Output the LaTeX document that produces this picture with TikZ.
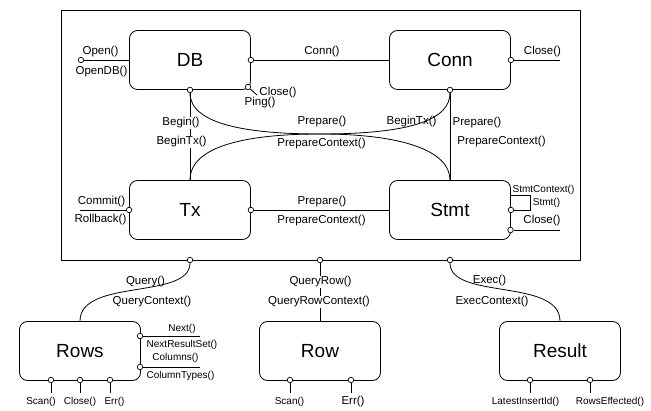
\documentclass[tikz,border=0pt]{standalone}
\usepackage{fontspec}
\setmainfont{Liberation Sans}
\begin{document}
\begin{tikzpicture}[x=1pt, y=-1pt, line width=0.8pt,
  box/.style={draw, rounded corners=8pt, minimum width=121pt,
              minimum height=59pt, font=\fontsize{19}{23}\selectfont},
  port/.style={circle, draw, fill=white, inner sep=0pt,
               minimum size=5.5pt, line width=0.7pt},
  lbl/.style={inner sep=1pt, font=\fontsize{11.5}{13}\selectfont},
  tlbl/.style={inner sep=1pt, font=\fontsize{10}{12}\selectfont},
  wlbl/.style={lbl, fill=white}
]
  \useasboundingbox (0,0) rectangle (651,411);
  \node[draw, inner sep=0pt, minimum width=519pt, minimum height=250pt]
        (frame) at (320.5,135) {};
  \node[box] (db)     at (190,60)  {DB};
  \node[box] (conn)   at (450,60)  {Conn};
  \node[box] (tx)     at (190,210) {Tx};
  \node[box] (stmt)   at (450,210) {Stmt};
  \node[box] (rows)   at (80,351)  {Rows};
  \node[box] (row)    at (320,351) {Row};
  \node[box] (result) at (560,351) {Result};

  \node[port] (pOpen)   at (81,60)        {};
  \node[port] (pDBr)    at (db.east)      {};
  \node[port] (pDBb)    at (db.south)     {};
  \node[port] (pDBc)    at (248,87)       {};
  \node[port] (pConnr)  at (conn.east)    {};
  \node[port] (pConnb)  at (conn.south)   {};
  \node[port] (pTxl)    at (tx.west)      {};
  \node[port] (pTxr)    at (tx.east)      {};
  \node[port] (pStmt1)  at (stmt.east)    {};
  \node[port] (pStmt2)  at (510.5,230)    {};
  \node[port] (pQuery)  at (190,260)      {};
  \node[port] (pQRow)   at (320,260)      {};
  \node[port] (pExec)   at (450,260)      {};
  \node[port] (pNext)   at (140,336)      {};
  \node[port] (pCols)   at (140,367)      {};
  \node[port] (pScan1)  at (51,380)       {};
  \node[port] (pClose4) at (80,380)       {};
  \node[port] (pErr1)   at (110,380)      {};
  \node[port] (pScan2)  at (290,380)      {};
  \node[port] (pErr2)   at (351,380)      {};
  \node[port] (pLast)   at (530,380)      {};
  \node[port] (pRowsE)  at (590,380)      {};

  \coordinate (eDBc)   at (257,95);
  \coordinate (eConn)  at (560,60);
  \coordinate (eTxl)   at (80,210);
  \coordinate (eStmt)  at (560,230);
  \coordinate (loopA)  at (530,210);
  \coordinate (loopB)  at (530,195);
  \coordinate (loopC)  at (510.5,195);
  \coordinate (eNext)  at (200,336);
  \coordinate (eCols)  at (200,367);
  \coordinate (eScan1) at (51,393);
  \coordinate (eClose4) at (80,393);
  \coordinate (eErr1)  at (110,393);
  \coordinate (eScan2) at (290,393);
  \coordinate (eErr2)  at (351,393);
  \coordinate (eLast)  at (530,393);
  \coordinate (eRowsE) at (590,393);
  \coordinate (touch)  at (320,134);

  \draw (pOpen) -- (db.west);
  \draw (pDBr) -- (conn.west);
  \draw (pDBc) -- (eDBc);
  \draw (pConnr) -- (eConn);
  \draw (pDBb) -- (tx.north);
  \draw (pConnb) -- (stmt.north);
  \draw (pTxl) -- (eTxl);
  \draw (pTxr) -- (stmt.west);
  \draw (pStmt1) -- (loopA) -- (loopB) -- (loopC);
  \draw (pStmt2) -- (eStmt);
  \draw (pQRow) -- (row.north);
  \draw (pNext) -- (eNext);
  \draw (pCols) -- (eCols);
  \draw (pScan1) -- (eScan1);
  \draw (pClose4) -- (eClose4);
  \draw (pErr1) -- (eErr1);
  \draw (pScan2) -- (eScan2);
  \draw (pErr2) -- (eErr2);
  \draw (pLast) -- (eLast);
  \draw (pRowsE) -- (eRowsE);

  \node[lbl]  (lOpen)       at (100.5,52)  {Open()};
  \node[lbl]  (lOpenDB)     at (101.5,72)  {OpenDB()};
  \node[lbl]  (lConn)       at (322,52)    {Conn()};
  \node[lbl]  (lClose1)     at (278,93)    {Close()};
  \node[lbl]  (lPing)       at (260,103)   {Ping()};
  \node[wlbl] (lBegin)      at (181,123)   {Begin()};
  \node[wlbl] (lBeginTx1)   at (181.5,142) {BeginTx()};
  \node[lbl]  (lPrepare1)   at (322,122)   {Prepare()};
  \node[lbl]  (lPrepCtx1)   at (321.5,144) {PrepareContext()};
  \node[lbl]  (lBeginTx2)   at (411.5,122) {BeginTx()};
  \node[lbl]  (lPrepare2)   at (477,123)   {Prepare()};
  \node[lbl]  (lPrepCtx2)   at (501.5,142) {PrepareContext()};
  \node[lbl]  (lClose2)     at (542.5,52)  {Close()};
  \node[lbl]  (lCommit)     at (101.5,202) {Commit()};
  \node[lbl]  (lRollback)   at (100.5,220) {Rollback()};
  \node[lbl]  (lPrepare3)   at (322,202)   {Prepare()};
  \node[lbl]  (lPrepCtx3)   at (321.5,221) {PrepareContext()};
  \node[tlbl] (lStmtCtx)    at (543.5,190) {StmtContext()};
  \node[tlbl] (lStmt)       at (546.5,203) {Stmt()};
  \node[lbl]  (lClose3)     at (542,221)   {Close()};
  \node[lbl]  (lQuery)      at (145.5,282) {Query()};
  \node[lbl]  (lQueryCtx)   at (152,302)   {QueryContext()};
  \node[wlbl] (lQueryRow)   at (320.5,282) {QueryRow()};
  \node[wlbl] (lQRowCtx)    at (319,302)   {QueryRowContext()};
  \node[lbl]  (lExec)       at (489.5,281) {Exec()};
  \node[lbl]  (lExecCtx)    at (492,302)   {ExecContext()};
  \node[tlbl] (lNext)       at (182,329)   {Next()};
  \node[tlbl] (lNextRS)     at (182,345)   {NextResultSet()};
  \node[tlbl] (lColumns)    at (175.5,358) {Columns()};
  \node[tlbl] (lColTypes)   at (180.5,376) {ColumnTypes()};
  \node[tlbl] (lScan1)      at (41,402)    {Scan()};
  \node[tlbl] (lClose4)     at (80,402)    {Close()};
  \node[tlbl] (lErr1)       at (114.5,402) {Err()};
  \node[tlbl] (lScan2)      at (289.5,402) {Scan()};
  \node[lbl]  (lErr2)       at (353,402)   {Err()};
  \node[tlbl] (lLatest)     at (525.5,402) {LatestInsertId()};
  \node[tlbl] (lRowsEff)    at (610,402)   {RowsEffected()};

  \draw (pDBb) .. controls (190,125) and (250,134) .. (touch)
        .. controls (400,134) and (450,150) .. (stmt.north);
  \draw (tx.north) .. controls (190,145) and (250,134) .. (touch)
        .. controls (410,134) and (450,120) .. (pConnb);
  \draw (pQuery) .. controls (190,300) and (80,278) .. (rows.north);
  \draw (pExec) .. controls (450,300) and (560,278) .. (result.north);
\end{tikzpicture}
\end{document}
